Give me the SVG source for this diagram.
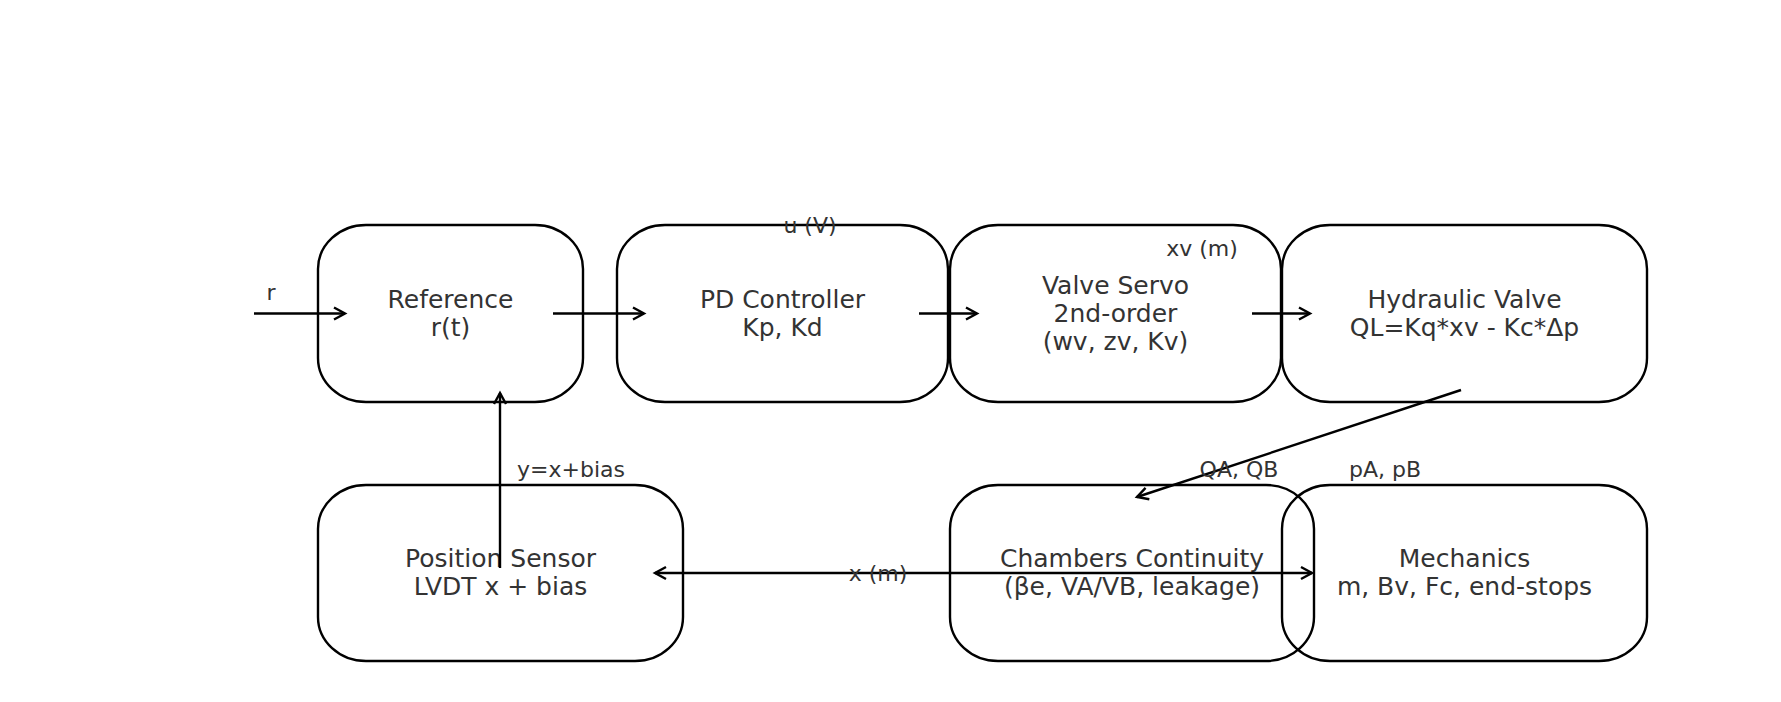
<svg xmlns="http://www.w3.org/2000/svg" width="1781" height="702" viewBox="0 0 1781 702">
<defs>
<style>
.box{fill:none;stroke:#000;stroke-width:2.4}
.nt{font-family:"DejaVu Sans",sans-serif;font-size:25px;fill:#333;text-anchor:middle}
.lb{font-family:"DejaVu Sans",sans-serif;font-size:22px;fill:#333;text-anchor:middle}
.ed{fill:none;stroke:#000;stroke-width:2.4}
</style>
<marker id="ah" markerUnits="userSpaceOnUse" markerWidth="30" markerHeight="30" refX="0" refY="0" viewBox="-15 -15 30 30" orient="auto-start-reverse">
<path d="M-11,-6 L0,0 L-11,6" fill="none" stroke="#000" stroke-width="2.4"/>
</marker>
</defs>
<rect width="1781" height="702" fill="#fff"/>
<g id="node-reference"><rect class="box" x="318" y="225" width="265" height="177" rx="48" ry="44"/><text class="nt" x="450.5" y="308">Reference</text><text class="nt" x="450.5" y="336">r(t)</text></g>
<g id="node-pd"><rect class="box" x="617" y="225" width="331" height="177" rx="48" ry="44"/><text class="nt" x="782.5" y="308">PD Controller</text><text class="nt" x="782.5" y="336">Kp, Kd</text></g>
<g id="node-valveservo"><rect class="box" x="950" y="225" width="331" height="177" rx="48" ry="44"/><text class="nt" x="1115.5" y="294">Valve Servo</text><text class="nt" x="1115.5" y="322">2nd-order</text><text class="nt" x="1115.5" y="350">(wv, zv, Kv)</text></g>
<g id="node-hydvalve"><rect class="box" x="1282" y="225" width="365" height="177" rx="48" ry="44"/><text class="nt" x="1464.5" y="308">Hydraulic Valve</text><text class="nt" x="1464.5" y="336">QL=Kq*xv - Kc*Δp</text></g>
<g id="node-sensor"><rect class="box" x="318" y="485" width="365" height="176" rx="48" ry="44"/><text class="nt" x="500.5" y="567">Position Sensor</text><text class="nt" x="500.5" y="595">LVDT x + bias</text></g>
<g id="node-chambers"><rect class="box" x="950" y="485" width="364" height="176" rx="48" ry="44"/><text class="nt" x="1132" y="567">Chambers Continuity</text><text class="nt" x="1132" y="595">(βe, VA/VB, leakage)</text></g>
<g id="node-mechanics"><rect class="box" x="1282" y="485" width="365" height="176" rx="48" ry="44"/><text class="nt" x="1464.5" y="567">Mechanics</text><text class="nt" x="1464.5" y="595">m, Bv, Fc, end-stops</text></g>
<g id="connectors">
<line class="ed" x1="254" y1="313.5" x2="345" y2="313.5" marker-end="url(#ah)"/>
<line class="ed" x1="553" y1="313.5" x2="644" y2="313.5" marker-end="url(#ah)"/>
<line class="ed" x1="919" y1="313.5" x2="977" y2="313.5" marker-end="url(#ah)"/>
<line class="ed" x1="1252" y1="313.5" x2="1310" y2="313.5" marker-end="url(#ah)"/>
<line class="ed" x1="1461" y1="390" x2="1137" y2="497" marker-end="url(#ah)"/>
<line class="ed" x1="655" y1="573" x2="1312" y2="573" marker-start="url(#ah)" marker-end="url(#ah)"/>
<line class="ed" x1="500" y1="568" x2="500" y2="393" marker-end="url(#ah)"/>
<text class="lb" x="271" y="300">r</text>
<text class="lb" x="810" y="233">u (V)</text>
<text class="lb" x="1202" y="256">xv (m)</text>
<text class="lb" x="1239" y="477">QA, QB</text>
<text class="lb" x="1385" y="477">pA, pB</text>
<text class="lb" x="571" y="477">y=x+bias</text>
<text class="lb" x="878" y="581">x (m)</text>
</g>
</svg>
